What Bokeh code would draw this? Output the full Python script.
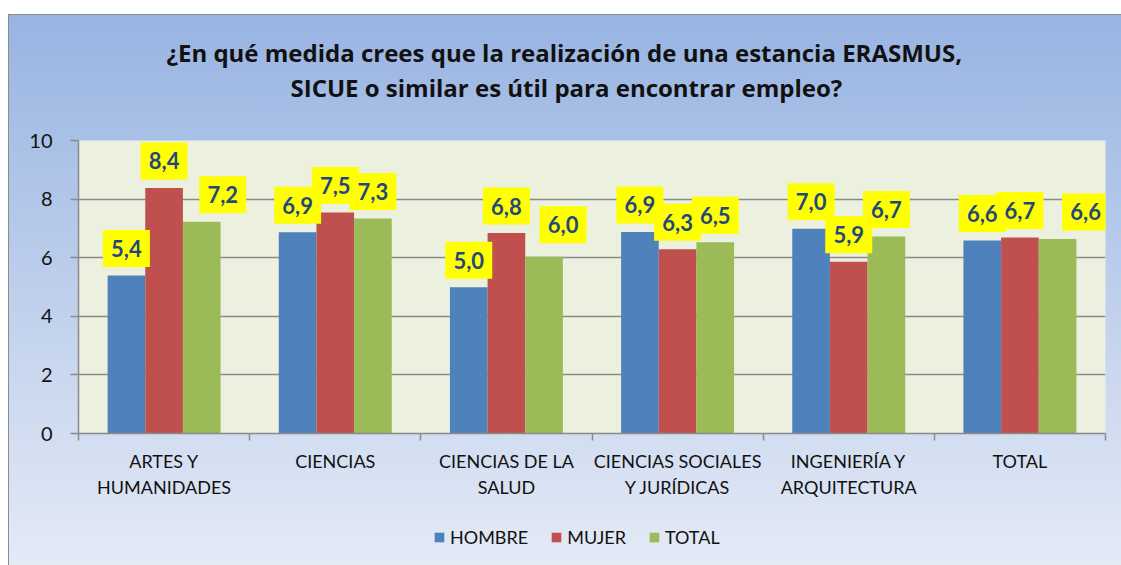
from bokeh.plotting import figure
from bokeh.layouts import column
from bokeh.models import Label, Legend, LegendItem, FixedTicker, Range1d, Title
from bokeh.embed import file_html
from bokeh.resources import INLINE

# ---- data ----
categories = ["ARTES Y\nHUMANIDADES", "CIENCIAS", "CIENCIAS DE LA\nSALUD",
              "CIENCIAS SOCIALES\nY JURÍDICAS", "INGENIERÍA Y\nARQUITECTURA", "TOTAL"]
series = ["HOMBRE", "MUJER", "TOTAL"]
hombre = [5.39, 6.87, 4.99, 6.88, 6.99, 6.59]
mujer = [8.38, 7.54, 6.84, 6.29, 5.86, 6.69]
total = [7.23, 7.34, 6.03, 6.53, 6.72, 6.64]
y_ticks = [0, 2, 4, 6, 8, 10]
title_lines = ["¿En qué medida crees que la realización de una estancia ERASMUS,",
               "SICUE o similar  es útil para encontrar empleo?"]

# ---- style ----
colors = ["#4F81BD", "#C0504D", "#9BBB59"]
bar_w = 0.22
offsets = [-0.22, 0.0, 0.22]
label_dx = [[0] * 6, [0] * 6, [21, 0, 19, 0, 0, 28]]   # px
label_dy = [[0] * 6, [0] * 6, [0, 0, 5, 0, 0, 0]]      # px
LABEL_RISE = 27                                          # px above bar top
BOX_W, BOX_H = 47, 37                                    # px
FONT = "Lato"
TFONT = "Open Sans"
GRAY = "#8A8A8A"
W, H_MAIN, H_LEG = 1113, 505, 46
B_LEFT, B_RIGHT, B_TOP, B_BOTTOM = 70, 16, 126, 86

p = figure(width=W, height=H_MAIN, output_backend="svg", toolbar_location=None,
           x_range=Range1d(0, len(categories)), y_range=Range1d(0, 10),
           min_border_left=B_LEFT, min_border_right=B_RIGHT, min_border_top=B_TOP,
           min_border_bottom=B_BOTTOM)
p.border_fill_alpha = 0
p.background_fill_color = "#EBF1DE"
p.outline_line_color = None

# pixels per data unit of the frame (fixed-size figure)
px_x = (W - B_LEFT - B_RIGHT) / len(categories)
px_y = (H_MAIN - B_TOP - B_BOTTOM) / 10

xs = [i + 0.5 for i in range(len(categories))]
series_vals = [hombre, mujer, total]
for k, vals in enumerate(series_vals):
    p.vbar(x=[x + offsets[k] for x in xs], top=vals, width=bar_w,
           fill_color=colors[k], line_color=None)

# yellow label boxes first, then all texts on top
bx, by = [], []
for k, vals in enumerate(series_vals):
    for i, v in enumerate(vals):
        bx.append(xs[i] + offsets[k] + label_dx[k][i] / px_x)
        by.append(v + (LABEL_RISE + label_dy[k][i]) / px_y)
p.rect(x=bx, y=by, width=BOX_W, height=BOX_H, width_units="screen",
       height_units="screen", fill_color="#FFFF00", line_color=None)

for k, vals in enumerate(series_vals):
    for i, v in enumerate(vals):
        txt = f"{v:.1f}".replace(".", ",")
        p.add_layout(Label(x=xs[i] + offsets[k], y=v, text=txt,
                           x_offset=label_dx[k][i],
                           y_offset=LABEL_RISE + label_dy[k][i],
                           text_align="center", text_baseline="middle",
                           text_font=FONT, text_font_style="bold",
                           text_font_size="22px", text_color="#1F497D"))

# axes
xa = p.xaxis[0]
xa.ticker = FixedTicker(ticks=xs, minor_ticks=list(range(len(categories) + 1)))
xa.major_label_overrides = {x: c for x, c in zip(xs, categories)}
xa.major_tick_line_color = None
xa.major_tick_out = 0
xa.major_tick_in = 0
xa.minor_tick_out = 7
xa.minor_tick_in = 0
xa.minor_tick_line_color = GRAY
xa.minor_tick_line_width = 1.5
xa.axis_line_color = GRAY
xa.axis_line_width = 1.5
xa.major_label_text_font = FONT
xa.major_label_text_font_size = "18px"
xa.major_label_text_color = "#111111"
xa.major_label_text_line_height = 1.2
xa.major_label_standoff = 9

ya = p.yaxis[0]
ya.ticker = FixedTicker(ticks=y_ticks)
ya.major_tick_out = 8
ya.major_tick_in = 0
ya.major_tick_line_color = GRAY
ya.major_tick_line_width = 1.5
ya.minor_tick_line_color = None
ya.axis_line_color = GRAY
ya.axis_line_width = 1.5
ya.major_label_text_font = FONT
ya.major_label_text_font_size = "20px"
ya.major_label_text_color = "#111111"
ya.major_label_standoff = 18

p.xgrid.grid_line_color = None
p.ygrid.grid_line_color = GRAY
p.ygrid.grid_line_width = 1.5
p.ygrid.ticker = FixedTicker(ticks=y_ticks)

# title: spacer nearest the frame, then line 2, then line 1
p.add_layout(Title(text=" ", standoff=7, text_font=FONT, text_font_size="23px"), "above")
p.add_layout(Title(text=title_lines[1], align="left", offset=212, standoff=0,
                   text_font=TFONT, text_font_style="bold", text_font_size="24px",
                   text_color="#111111"), "above")
p.add_layout(Title(text=title_lines[0], align="left", offset=88, standoff=0,
                   text_font=TFONT, text_font_style="bold", text_font_size="24px",
                   text_color="#111111"), "above")

# legend strip (its renderers draw the same series, outside its visible range)
q = figure(width=W, height=H_LEG, output_backend="svg", toolbar_location=None,
           x_axis_location=None, y_axis_location=None, min_border=0,
           x_range=Range1d(0, len(categories)), y_range=Range1d(20, 21))
q.border_fill_alpha = 0
q.background_fill_alpha = 0
q.outline_line_color = None
q.xgrid.grid_line_color = None
q.ygrid.grid_line_color = None
leg_r = [q.vbar(x=[x + offsets[k] for x in xs], top=series_vals[k], width=bar_w,
                fill_color=colors[k], line_color=None) for k in range(3)]
legend = Legend(items=[LegendItem(label=s, renderers=[r]) for s, r in zip(series, leg_r)],
                orientation="horizontal", location=(355, 17),
                background_fill_alpha=0, border_line_color=None,
                padding=0, margin=0, glyph_width=12, glyph_height=12,
                label_standoff=5, spacing=22,
                label_text_font=FONT, label_text_font_size="18px",
                label_text_color="#111111")
q.add_layout(legend, "center")

layout = column(p, q, spacing=0)
layout.styles = {
    "background": "linear-gradient(180deg, #98B4E2 0%, #E4EAF6 100%)",
    "box-shadow": "inset 1px 1px 0 #8C8C8C",
    "margin-top": "14px",
    "margin-left": "8px",
    "margin-bottom": "-14px",
}

open("out.html", "w").write(file_html(layout, INLINE))
